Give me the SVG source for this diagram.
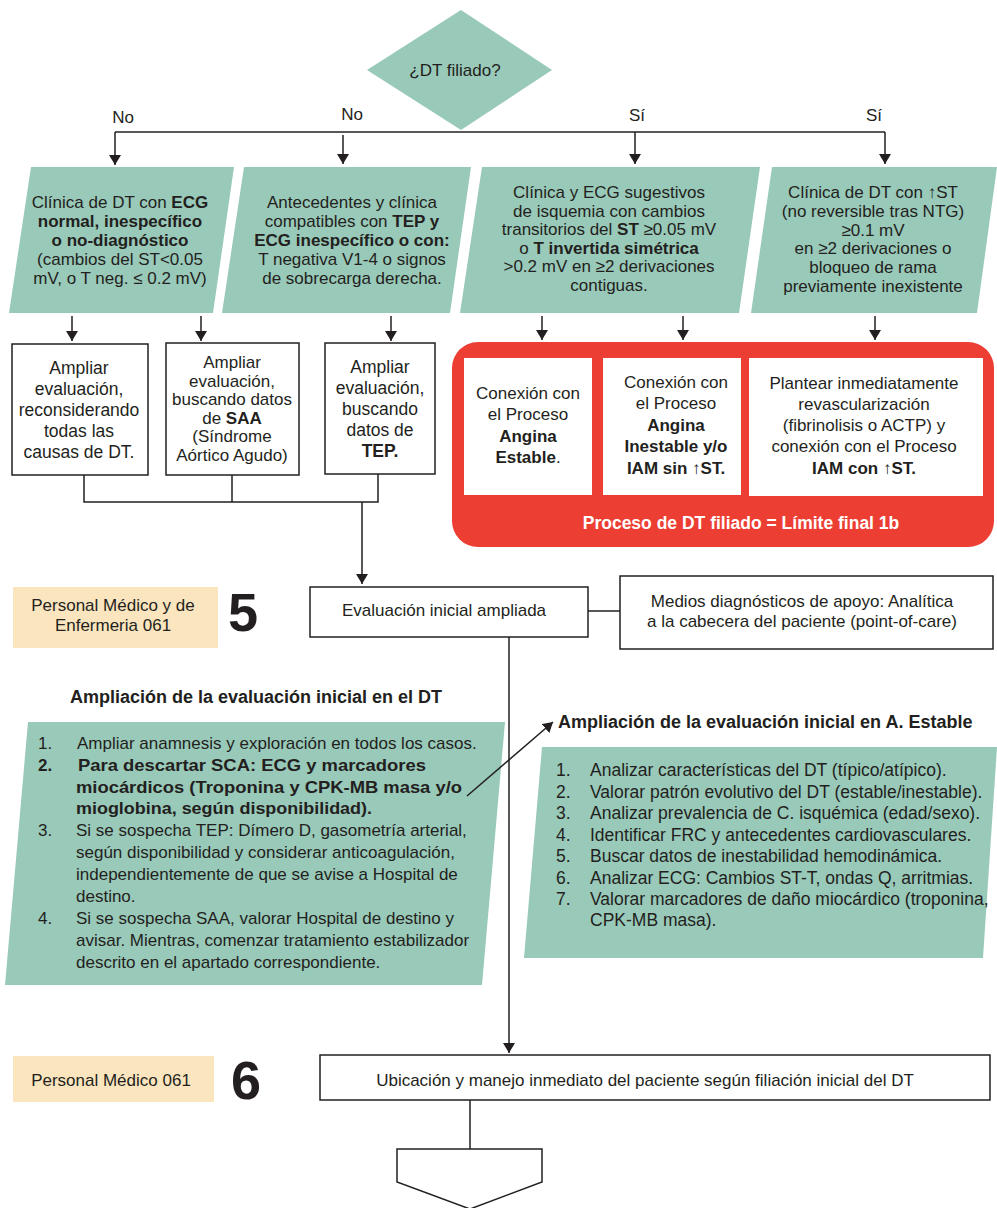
<svg xmlns="http://www.w3.org/2000/svg" width="997" height="1208" viewBox="0 0 997 1208">
<defs>
<style>
text{font-family:"Liberation Sans",Arial,sans-serif;fill:#231f20;}
.t17{font-size:17px;}
.t175{font-size:17.5px;}
.c{text-anchor:middle;}
.b{font-weight:bold;}
.green{fill:#99c9b9;}
.box{fill:#fff;stroke:#231f20;stroke-width:1.5;}
.yel{fill:#fae5be;}
.ln{fill:none;stroke:#231f20;stroke-width:1.5;}
.big{font-size:54px;font-weight:bold;}
.wt{fill:#fff;}
</style>
<marker id="ah" markerWidth="10" markerHeight="12" refX="10" refY="6" orient="auto" markerUnits="userSpaceOnUse" viewBox="0 0 10 12">
<path d="M0,0 L10,6 L0,12 Z" fill="#231f20"/>
</marker>
</defs>
<rect width="997" height="1208" fill="#fff"/>

<g id="decision">
<polygon class="green" points="461,10 552,70 461,130 367,70"/>
<text class="t17 c" x="455" y="76">¿DT filiado?</text>
</g>
<g id="labels">
<text class="t17 c" x="123" y="123">No</text>
<text class="t17 c" x="352" y="120">No</text>
<text class="t17 c" x="637" y="121">Sí</text>
<text class="t17 c" x="874" y="121">Sí</text>
</g>

<g id="p1">
<polygon class="green" points="31,167 234,167 213,313 9,313"/>
<text class="t17 c" x="120" y="208">Clínica de DT con <tspan class="b">ECG</tspan></text>
<text class="t17 c b" x="120" y="227">normal, inespecífico</text>
<text class="t17 c b" x="120" y="246">o no-diagnóstico</text>
<text class="t17 c" x="120" y="265">(cambios del ST&lt;0.05</text>
<text class="t17 c" x="120" y="284">mV, o T neg. ≤ 0.2 mV)</text>
</g>
<g id="p2">
<polygon class="green" points="244,167 471,167 450,313 222,313"/>
<text class="t17 c" x="352" y="208">Antecedentes y clínica</text>
<text class="t17 c" x="352" y="227">compatibles con <tspan class="b">TEP y</tspan></text>
<text class="t17 c b" x="352" y="246">ECG inespecífico o con:</text>
<text class="t17 c" x="352" y="265">T negativa V1-4 o signos</text>
<text class="t17 c" x="352" y="284">de sobrecarga derecha.</text>
</g>
<g id="p3">
<polygon class="green" points="482,167 760,167 739,313 460,313"/>
<text class="t17 c" x="609" y="198">Clínica y ECG sugestivos</text>
<text class="t17 c" x="609" y="216.6">de isquemia con cambios</text>
<text class="t17 c" x="609" y="235.2">transitorios del <tspan class="b">ST</tspan> ≥0.05 mV</text>
<text class="t17 c" x="609" y="253.8">o <tspan class="b">T invertida simétrica</tspan></text>
<text class="t17 c" x="609" y="272.4">&gt;0.2 mV en ≥2 derivaciones</text>
<text class="t17 c" x="609" y="291">contiguas.</text>
</g>
<g id="p4">
<polygon class="green" points="772,167 997,167 977,313 751,313"/>
<text class="t17 c" x="873" y="198">Clínica de DT con ↑ST</text>
<text class="t17 c" x="873" y="216.8">(no reversible tras NTG)</text>
<text class="t17 c" x="873" y="235.6">≥0.1 mV</text>
<text class="t17 c" x="873" y="254.4">en ≥2 derivaciones o</text>
<text class="t17 c" x="873" y="273.2">bloqueo de rama</text>
<text class="t17 c" x="873" y="292">previamente inexistente</text>
</g>

<g id="boxA">
<rect class="box" x="12" y="344" width="136" height="131"/>
<text class="t175 c" x="79" y="374">Ampliar</text>
<text class="t175 c" x="79" y="395">evaluación,</text>
<text class="t175 c" x="79" y="416">reconsiderando</text>
<text class="t175 c" x="79" y="437">todas las</text>
<text class="t175 c" x="79" y="458">causas de DT.</text>
</g>
<g id="boxB">
<rect class="box" x="166" y="343" width="133" height="132"/>
<text class="t17 c" x="232" y="368">Ampliar</text>
<text class="t17 c" x="232" y="386.5">evaluación,</text>
<text class="t17 c" x="232" y="405">buscando datos</text>
<text class="t17 c" x="232" y="423.5">de <tspan class="b">SAA</tspan></text>
<text class="t17 c" x="232" y="442">(Síndrome</text>
<text class="t17 c" x="232" y="461">Aórtico Agudo)</text>
</g>
<g id="boxC">
<rect class="box" x="325" y="343" width="110" height="131"/>
<text class="t175 c" x="380" y="373">Ampliar</text>
<text class="t175 c" x="380" y="394">evaluación,</text>
<text class="t175 c" x="380" y="415">buscando</text>
<text class="t175 c" x="380" y="436">datos de</text>
<text class="t175 c b" x="380" y="457">TEP.</text>
</g>

<g id="filiado">
<rect x="452" y="342" width="542" height="205" rx="26" fill="#ed3e34"/>
<text class="t175 c b wt" x="741" y="529">Proceso de DT filiado = Límite final 1b</text>
</g>
<g id="boxR1">
<rect x="464" y="358" width="128" height="137" fill="#fff"/>
<text class="t17 c" x="528" y="399">Conexión con</text>
<text class="t17 c" x="528" y="420">el Proceso</text>
<text class="t17 c b" x="528" y="442">Angina</text>
<text class="t17 c" x="528" y="463"><tspan class="b">Estable</tspan>.</text>
</g>
<g id="boxR2">
<rect x="603" y="358" width="138" height="137" fill="#fff"/>
<text class="t17 c" x="676" y="388">Conexión con</text>
<text class="t17 c" x="676" y="409">el Proceso</text>
<text class="t17 c b" x="676" y="431">Angina</text>
<text class="t17 c b" x="676" y="452">Inestable y/o</text>
<text class="t17 c b" x="676" y="474">IAM sin ↑ST.</text>
</g>
<g id="boxR3">
<rect x="749" y="358" width="234" height="138" fill="#fff"/>
<text class="t17 c" x="864" y="389">Plantear inmediatamente</text>
<text class="t17 c" x="864" y="410">revascularización</text>
<text class="t17 c" x="864" y="431">(fibrinolisis o ACTP) y</text>
<text class="t17 c" x="864" y="452">conexión con el Proceso</text>
<text class="t17 c b" x="864" y="474">IAM con ↑ST.</text>
</g>

<g id="role5">
<rect class="yel" x="13" y="587" width="205" height="61"/>
<text class="t17 c" x="113" y="611">Personal Médico y de</text>
<text class="t17 c" x="113" y="631">Enfermeria 061</text>
<text class="big c" x="243" y="631">5</text>
</g>
<g id="evalBox">
<rect class="box" x="310" y="587" width="278" height="50"/>
<text class="t17 c" x="444" y="616">Evaluación inicial ampliada</text>
</g>
<g id="medios">
<rect class="box" x="620" y="576" width="373" height="73"/>
<text class="t17 c" x="802" y="607">Medios diagnósticos de apoyo: Analítica</text>
<text class="t17 c" x="802" y="627">a la cabecera del paciente (point-of-care)</text>
</g>

<g id="listDT">
<text class="b" x="70" y="703" font-size="18">Ampliación de la evaluación inicial en el DT</text>
<polygon class="green" points="28,722 505,722 482,985 5,985"/>
<g class="t17">
<text x="38" y="749">1.</text><text x="77" y="749">Ampliar anamnesis y exploración en todos los casos.</text>
<text x="38" y="771" class="b">2.</text><text x="78" y="771" class="b" textLength="348" lengthAdjust="spacingAndGlyphs">Para descartar SCA: ECG y marcadores</text>
<text x="76" y="793" class="b" textLength="386" lengthAdjust="spacingAndGlyphs">miocárdicos (Troponina y CPK-MB masa y/o</text>
<text x="76" y="814" class="b" textLength="296" lengthAdjust="spacingAndGlyphs">mioglobina, según disponibilidad).</text>
<text x="38" y="836">3.</text><text x="76" y="836">Si se sospecha TEP: Dímero D, gasometría arterial,</text>
<text x="76" y="858">según disponibilidad y considerar anticoagulación,</text>
<text x="76" y="880">independientemente de que se avise a Hospital de</text>
<text x="76" y="902">destino.</text>
<text x="38" y="924">4.</text><text x="76" y="924">Si se sospecha SAA, valorar Hospital de destino y</text>
<text x="76" y="946">avisar. Mientras, comenzar tratamiento estabilizador</text>
<text x="76" y="968">descrito en el apartado correspondiente.</text>
</g>
</g>

<g id="listAE">
<text class="b" x="558" y="728" font-size="18">Ampliación de la evaluación inicial en A. Estable</text>
<polygon class="green" points="542,747 997,747 983,958 524,958"/>
<g class="t175">
<text x="556" y="776">1.</text><text x="590" y="776">Analizar características del DT (típico/atípico).</text>
<text x="556" y="798">2.</text><text x="590" y="798">Valorar patrón evolutivo del DT (estable/inestable).</text>
<text x="556" y="819">3.</text><text x="590" y="819">Analizar prevalencia de C. isquémica (edad/sexo).</text>
<text x="556" y="841">4.</text><text x="590" y="841">Identificar FRC y antecedentes cardiovasculares.</text>
<text x="556" y="862">5.</text><text x="590" y="862">Buscar datos de inestabilidad hemodinámica.</text>
<text x="556" y="884">6.</text><text x="590" y="884">Analizar ECG: Cambios ST-T, ondas Q, arritmias.</text>
<text x="556" y="905">7.</text><text x="590" y="905">Valorar marcadores de daño miocárdico (troponina,</text>
<text x="590" y="926">CPK-MB masa).</text>
</g>
</g>

<g id="role6">
<rect class="yel" x="13" y="1056" width="201" height="46"/>
<text class="t17 c" x="111" y="1086">Personal Médico 061</text>
<text class="big c" x="246" y="1099">6</text>
</g>
<g id="ubicacion">
<rect class="box" x="320" y="1055" width="670" height="45"/>
<text class="t17 c" x="645" y="1086">Ubicación y manejo inmediato del paciente según filiación inicial del DT</text>
</g>
<g id="offpage">
<polygon class="box" points="397,1149 542,1149 542,1182 470,1209 397,1182"/>
</g>

<g id="connectors">
<polyline class="ln" points="115,132 885,132"/>
<line class="ln" x1="115" y1="132" x2="115" y2="165" marker-end="url(#ah)"/>
<line class="ln" x1="343" y1="135" x2="343" y2="164" marker-end="url(#ah)"/>
<line class="ln" x1="635" y1="132" x2="635" y2="164" marker-end="url(#ah)"/>
<line class="ln" x1="885" y1="132" x2="885" y2="164" marker-end="url(#ah)"/>
<line class="ln" x1="72" y1="316" x2="72" y2="341" marker-end="url(#ah)"/>
<line class="ln" x1="201" y1="316" x2="201" y2="341" marker-end="url(#ah)"/>
<line class="ln" x1="391" y1="316" x2="391" y2="341" marker-end="url(#ah)"/>
<line class="ln" x1="542" y1="316" x2="542" y2="340" marker-end="url(#ah)"/>
<line class="ln" x1="683" y1="316" x2="683" y2="340" marker-end="url(#ah)"/>
<line class="ln" x1="875" y1="316" x2="875" y2="340" marker-end="url(#ah)"/>
<polyline class="ln" points="84,475 84,502 378,502 378,474"/>
<line class="ln" x1="232" y1="475" x2="232" y2="502"/>
<line class="ln" x1="362" y1="502" x2="362" y2="584" marker-end="url(#ah)"/>
<line class="ln" x1="588" y1="611" x2="620" y2="611"/>
<line class="ln" x1="509" y1="637" x2="509" y2="1053" marker-end="url(#ah)"/>
<line class="ln" x1="467" y1="796" x2="553" y2="722" stroke-width="1.3" marker-end="url(#ah)"/>
<line class="ln" x1="470" y1="1100" x2="470" y2="1149"/>
</g>
</svg>
